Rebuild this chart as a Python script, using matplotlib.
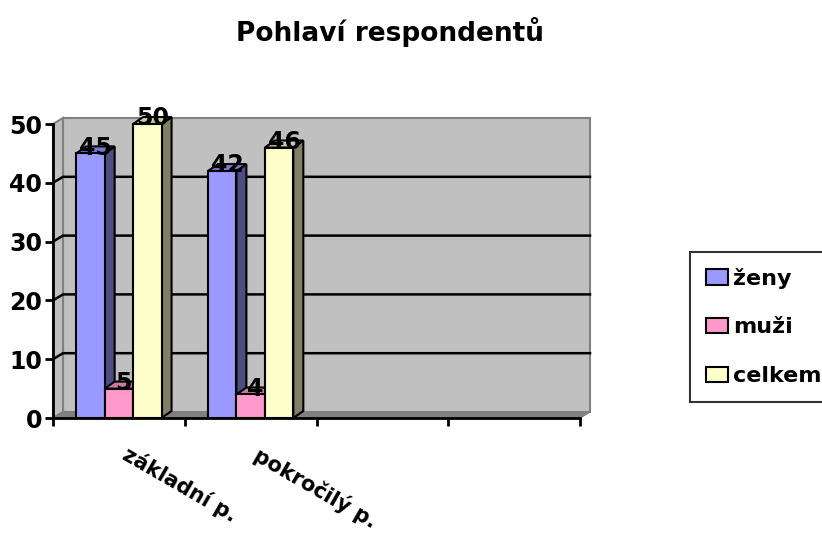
import matplotlib
matplotlib.use('Agg')
import matplotlib.pyplot as plt
from matplotlib.patches import Polygon, Patch

plt.rcParams['font.family'] = ['DejaVu Sans']
plt.rcParams['font.weight'] = 'bold'

# data
categories = ['základní p.', 'pokročilý p.', '', '']
series_names = ['ženy', 'muži', 'celkem']
zeny = [45, 42]
muzi = [5, 4]
celkem = [50, 46]
series_values = [zeny, muzi, celkem]

front_colors = ['#9999ff', '#ff99cc', '#ffffcc']
side_colors = ['#4d4d80', '#804d66', '#808066']
top_colors = ['#7a7acc', '#cc7aa3', '#cccca3']

W, H = 822, 538
fig = plt.figure(figsize=(W / 100, H / 100), dpi=100)
ax_l, ax_r, ax_b, ax_t = 53, 580, 418, 124
ax = fig.add_axes([ax_l / W, 1 - ax_b / H, (ax_r - ax_l) / W, (ax_b - ax_t) / H])
ax.set_xlim(0, 4)
ax.set_ylim(0, 50)
ax.patch.set_visible(False)

px_x = (ax_r - ax_l) / 4.0   # pixels per x unit
px_y = (ax_b - ax_t) / 50.0  # pixels per y unit

# depth of back wall and bars in data units
wdx, wdy = 10 / px_x, 6 / px_y
bdx, bdy = 10 / px_x, 7 / px_y


def poly(pts, fc, ec='black', lw=1.5, z=1):
    p = Polygon(pts, closed=True, facecolor=fc, edgecolor=ec, linewidth=lw,
                zorder=z, clip_on=False, joinstyle='miter')
    ax.add_patch(p)


# back wall, left side wall, floor
poly([(wdx, wdy), (4 + wdx, wdy), (4 + wdx, 50 + wdy), (wdx, 50 + wdy)], '#c0c0c0', ec='#808080', lw=1.5, z=1)
poly([(0, 0), (wdx, wdy), (wdx, 50 + wdy), (0, 50)], '#c0c0c0', ec='#808080', lw=1.5, z=1)
poly([(0, 0), (4, 0), (4 + wdx, wdy), (wdx, wdy)], '#808080', ec='#808080', lw=1, z=1)

# gridlines on wall
for v in [10, 20, 30, 40]:
    ax.plot([0, wdx, 4 + wdx], [v, v + wdy, v + wdy], color='black', lw=1.8,
            zorder=2, clip_on=False, solid_joinstyle='miter')

# bars
bw = 0.216
for i in range(len(zeny)):
    c = i + 0.5
    for k, vals in enumerate(series_values):
        x0 = c + (k - 1.5) * bw
        x1 = x0 + bw
        v = vals[i]
        z = 3 + i * 3 + k
        poly([(x1, 0), (x1 + bdx, bdy), (x1 + bdx, v + bdy), (x1, v)], side_colors[k], z=z)
        poly([(x0, v), (x1, v), (x1 + bdx, v + bdy), (x0 + bdx, v + bdy)], top_colors[k], z=z)
        poly([(x0, 0), (x1, 0), (x1, v), (x0, v)], front_colors[k], z=z)
        ax.text(x0 + bw / 2 + bdx / 2, v + bdy / 2 + 0.4, str(v), ha='center', va='center',
                fontsize=17, fontweight='bold', zorder=20)

# axes
for s in ['top', 'right']:
    ax.spines[s].set_visible(False)
for s in ['left', 'bottom']:
    ax.spines[s].set_linewidth(2)
    ax.spines[s].set_zorder(15)
ax.set_yticks([0, 10, 20, 30, 40, 50])
ax.set_yticklabels(['0', '10', '20', '30', '40', '50'], fontsize=17, fontweight='bold')
ax.set_xticks([0, 1, 2, 3, 4])
ax.set_xticklabels([])
ax.tick_params(axis='both', direction='out', length=6, width=2, pad=2)

for i, lab in enumerate(categories):
    if lab:
        ax.text(i + 0.58, -4.4, lab, rotation=-30, rotation_mode='anchor', ha='left', va='top',
                fontsize=15, fontweight='bold')

fig.text(0.475, 1 - 32 / H, 'Pohlaví respondentů', ha='center', va='center', fontsize=19, fontweight='bold')

handles = [Patch(facecolor=front_colors[k], edgecolor='black', linewidth=1.5, label=series_names[k])
           for k in range(3)]
leg = fig.legend(handles=handles, loc='upper left', bbox_to_anchor=(690 / W, 1 - 252 / H),
                 frameon=True, fancybox=False, edgecolor='black', fontsize=16,
                 handlelength=1.0, handleheight=0.7, handletextpad=0.25, labelspacing=1.3,
                 borderpad=0.7, borderaxespad=0)
leg.get_frame().set_linewidth(1.5)
for t in leg.get_texts():
    t.set_fontweight('bold')

fig.savefig('out.png', dpi=100, facecolor='white')
